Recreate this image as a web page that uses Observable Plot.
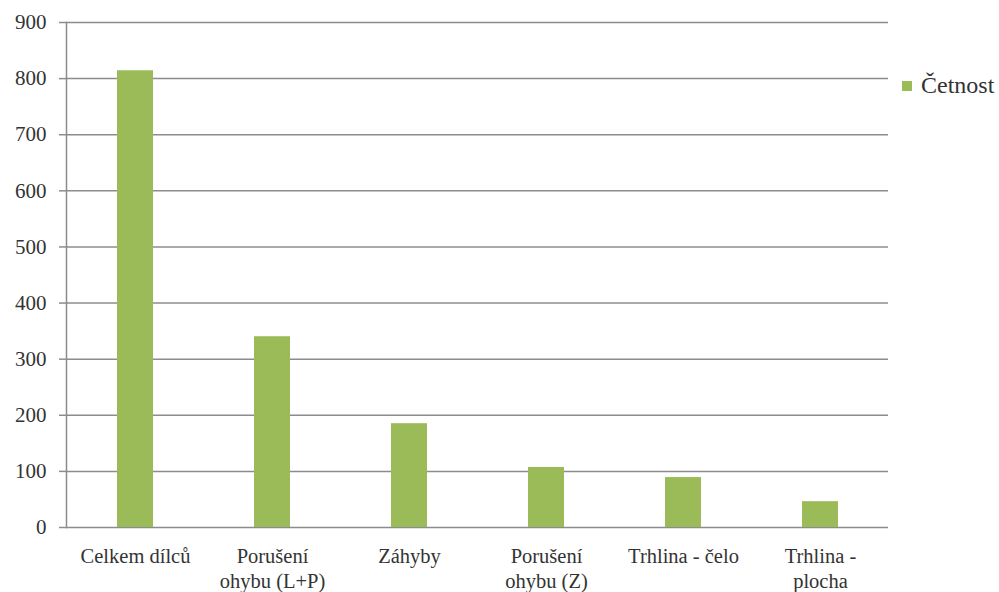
<!DOCTYPE html>
<html>
<head>
<meta charset="utf-8">
<script src="https://cdn.jsdelivr.net/npm/d3@7"></script>
<script src="https://cdn.jsdelivr.net/npm/@observablehq/plot@0.6"></script>
<style>
  body { margin: 0; background: #fff; }
  #wrap { position: relative; width: 999px; height: 592px; }
  #legend { position: absolute; left: 902px; top: 72px; color: #333; display: flex; align-items: center; }
  #legend .sw { width: 10px; height: 10px; background: #9BBB59; margin-right: 9px; }
</style>
</head>
<body>
<div id="wrap"><div id="legend"><span class="sw"></span><span id="legtext" style="font-family:'Liberation Serif'; font-size:24px;"></span></div></div>
<script>
const categories = ["Celkem dílců", "Porušení\nohybu (L+P)", "Záhyby", "Porušení\nohybu (Z)", "Trhlina - čelo", "Trhlina -\nplocha"];
const values = [814, 340, 185, 107, 89, 46];
const yTicks = [0, 100, 200, 300, 400, 500, 600, 700, 800, 900];
const seriesName = "Četnost";

document.getElementById("legtext").textContent = seriesName;
const data = categories.map((c, i) => ({category: c, value: values[i]}));
const FONT = "Liberation Serif";

const chart = Plot.plot({
  width: 999,
  height: 592,
  marginLeft: 66,
  marginRight: 111,
  marginTop: 22,
  marginBottom: 65,
  style: {fontFamily: FONT, fontSize: "21px", color: "#333", background: "#fff"},
  x: {domain: categories, paddingInner: 0.74, paddingOuter: 0.37, label: null},
  y: {domain: [0, 900], label: null},
  marks: [
    Plot.ruleY(yTicks, {stroke: "#8c8c8c", strokeWidth: 1.5, strokeOpacity: 1}),
    Plot.barY(data, {x: "category", y: "value", fill: "#9BBB59"}),
    Plot.frame({anchor: "left", stroke: "#8c8c8c", strokeWidth: 1.5, strokeOpacity: 1}),
    Plot.axisY({ticks: yTicks, tickSize: 7, tickPadding: 13, stroke: "#8c8c8c", strokeWidth: 1.5, strokeOpacity: 1, fontSize: 21, fill: "#333", label: null}),
    Plot.axisX({tickSize: 0, tickPadding: 18, fontSize: 20.5, fill: "#333", lineHeight: 1.2, label: null})
  ]
});
document.getElementById("wrap").prepend(chart);
chart.querySelectorAll("text, tspan").forEach(t => { t.setAttribute("font-family", FONT); t.style.setProperty("font-family", FONT, "important"); });
</script>
</body>
</html>
